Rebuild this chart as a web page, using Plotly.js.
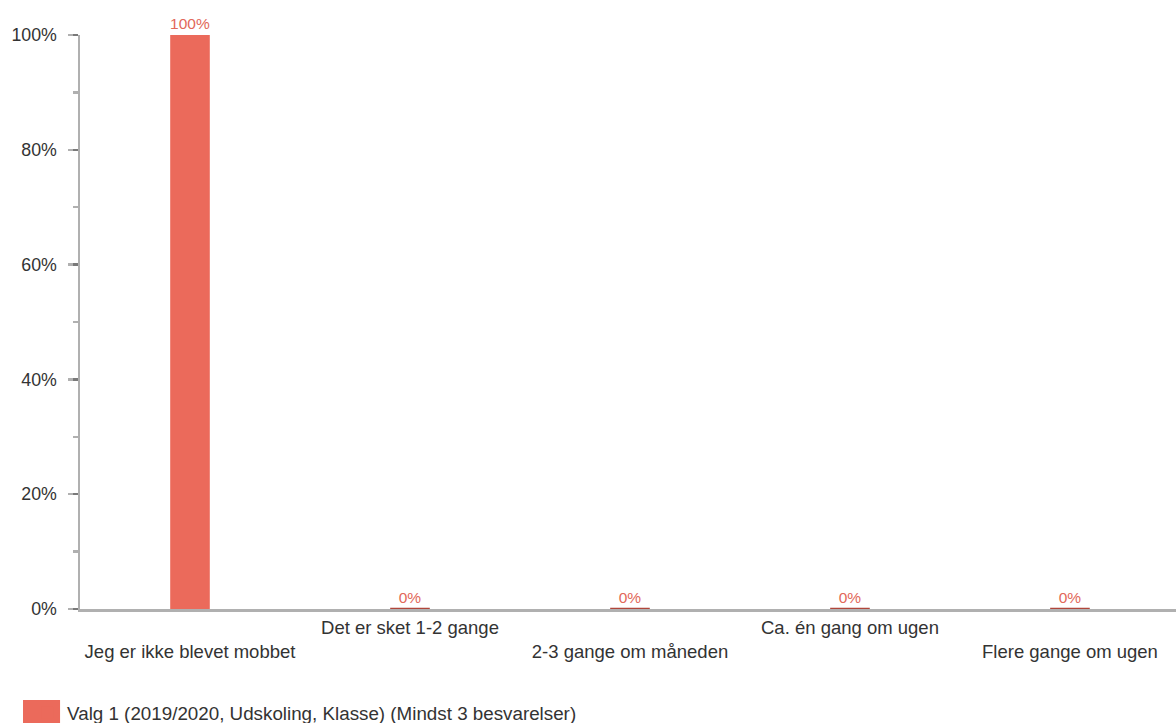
<!DOCTYPE html>
<html>
<head>
<meta charset="utf-8">
<script src="https://cdn.plot.ly/plotly-3.0.1.min.js"></script>
<style>html,body{margin:0;padding:0;background:#fff;}#chart{width:1176px;height:723px;}</style>
</head>
<body>
<div id="chart"></div>
<script>
const categories = [
  "Jeg er ikke blevet mobbet",
  "Det er sket 1-2 gange",
  "2-3 gange om måneden",
  "Ca. én gang om ugen",
  "Flere gange om ugen"
];
const values = [1.00, 0, 0, 0, 0];
const seriesName = "Valg 1 (2019/2020, Udskoling, Klasse) (Mindst 3 besvarelser)";
const yTickVals = [0, 0.2, 0.4, 0.6, 0.8, 1.0];
const yTickText = ["0%", "20%", "40%", "60%", "80%", "100%"];

const barColor = "#EB6A5B";
const zeroBarColor = "#B0463B";
const axisColor = "rgba(0,0,0,0.31)";
const font = "'Liberation Sans', Arial, sans-serif";

const tickText = categories.map((c, i) => (i % 2 === 0 ? "<br>" + c : c));

const trace = {
  type: "bar",
  x: categories,
  y: values,
  name: seriesName,
  width: 0.18,
  marker: {
    color: barColor,
    line: { color: zeroBarColor, width: values.map(v => (v === 0 ? 2.5 : 0)) }
  },
  texttemplate: "%{y:.0%}",
  textposition: "outside",
  textfont: { color: "#E2685A", size: 15.5, family: font },
  cliponaxis: false,
  constraintext: "none",
  hoverinfo: "none"
};

const layout = {
  width: 1176,
  height: 723,
  margin: { l: 80, r: 0, t: 35, b: 114 },
  paper_bgcolor: "#fff",
  plot_bgcolor: "#fff",
  font: { family: font, color: "#333" },
  showlegend: true,
  legend: {
    orientation: "h",
    xref: "container", yref: "container",
    x: 0.023, y: 0.014, xanchor: "left", yanchor: "middle",
    bgcolor: "rgba(0,0,0,0)",
    font: { size: 18.8, color: "#333", family: font }
  },
  shapes: [{
    type: "rect", xref: "paper", yref: "paper", layer: "above",
    x0: -0.052, x1: -0.0182, y0: -0.1585, y1: -0.2,
    fillcolor: barColor, line: { width: 0 }
  }],
  xaxis: {
    type: "category",
    range: [-0.5, 4.482],
    tickmode: "array",
    tickvals: categories,
    ticktext: tickText,
    showline: true,
    linecolor: axisColor,
    linewidth: 2.5,
    ticks: "",
    showgrid: false,
    zeroline: false,
    tickfont: { size: 18.5, color: "#333", family: font },
    fixedrange: true
  },
  yaxis: {
    range: [0, 1],
    tickmode: "array",
    tickvals: yTickVals,
    ticktext: yTickText,
    showline: true,
    linecolor: axisColor,
    linewidth: 2.5,
    ticks: "outside",
    ticklen: 10,
    tickwidth: 2.5,
    tickcolor: axisColor,
    minor: { dtick: 0.1, ticks: "outside", ticklen: 5, tickwidth: 2.5, tickcolor: axisColor, showgrid: false },
    ticklabelstandoff: 7,
    showgrid: false,
    zeroline: false,
    tickfont: { size: 17.8, color: "#333", family: font },
    fixedrange: true
  }
};

Plotly.newPlot("chart", [trace], layout, { displayModeBar: false, staticPlot: true });
</script>
</body>
</html>
